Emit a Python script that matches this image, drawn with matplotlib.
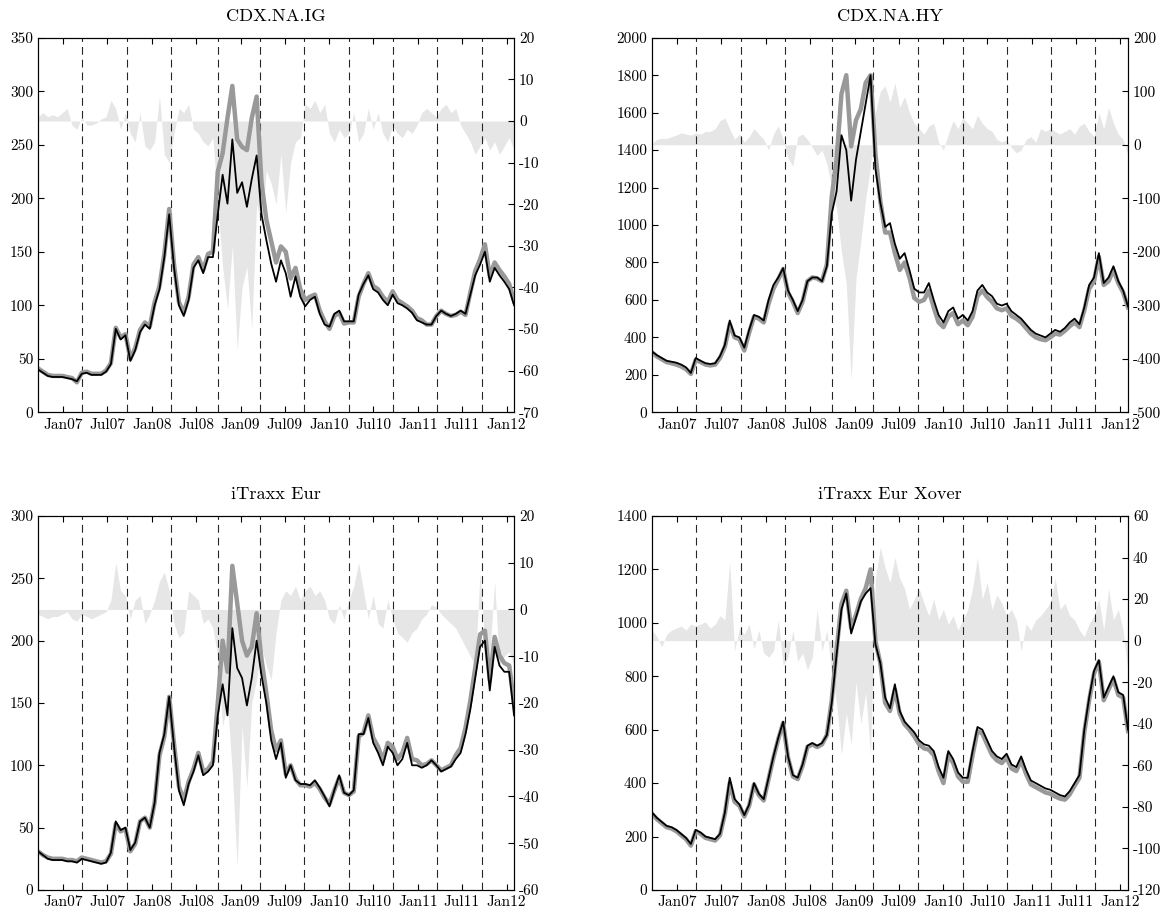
"""
Spreads de CDS - índices CDX e iTraxx
Linha cinza grossa: modelo, linha preta: mercado, área cinza clara: diferença (eixo da direita)
"""
import numpy as np
import pandas as pd
import matplotlib
matplotlib.use('Agg')
import matplotlib.pyplot as plt
import matplotlib.dates as mdates

plt.rcParams['font.family'] = ['cmr10', 'DejaVu Serif']
plt.rcParams['axes.unicode_minus'] = False
plt.rcParams['axes.formatter.use_mathtext'] = False
plt.rcParams['font.size'] = 11

# datas de 20 em 20 dias, de set/2006 a fev/2012
datas = pd.date_range('2006-09-20', periods=99, freq='20D')

# datas de rolagem das séries (linhas tracejadas)
rolagens = pd.to_datetime(['2007-03-20', '2007-09-20', '2008-03-20', '2008-09-29',
                           '2009-03-20', '2009-09-21', '2010-03-22', '2010-09-20',
                           '2011-03-21', '2011-09-20'])

##########  CDX.NA.IG  ##########
ig_mercado = [40, 37, 34, 33, 33, 33, 32, 31, 29, 36,
              37, 35, 35, 35, 38, 45, 78, 68, 72, 48,
              58, 75, 82, 78, 100, 115, 145, 185, 135, 100,
              90, 105, 135, 142, 130, 145, 145, 185, 222, 195,
              255, 205, 215, 192, 218, 240, 185, 161, 139, 122,
              142, 130, 108, 127, 108, 99, 105, 108, 92, 82,
              80, 92, 95, 85, 85, 85, 110, 120, 128, 115,
              112, 105, 100, 110, 102, 100, 97, 93, 86, 84,
              82, 82, 90, 95, 92, 90, 92, 95, 92, 110,
              128, 138, 150, 122, 135, 128, 122, 115, 100]
ig_modelo = [41, 38, 35, 34, 34, 34, 33, 32, 28, 37,
             38, 36, 36, 36, 39, 46, 79, 70, 73, 50,
             60, 77, 84, 80, 103, 118, 148, 190, 138, 103,
             93, 108, 138, 145, 133, 148, 150, 225, 242, 275,
             305, 255, 248, 245, 275, 295, 215, 180, 160, 140,
             155, 150, 125, 135, 115, 105, 108, 110, 95, 85,
             78, 90, 93, 83, 84, 84, 108, 120, 130, 118,
             115, 108, 103, 113, 105, 102, 99, 95, 88, 86,
             82, 82, 90, 95, 92, 90, 91, 94, 91, 112,
             132, 143, 157, 127, 140, 133, 127, 120, 104]
ig_dif = [1, 2, 1, 1.5, 1, 2, 3, -1, -2, 1,
          -1, -1, -0.5, 0.5, 1, 5, 3, -2, 2, -3,
          -5, 2, -6, -7, -5, 6, -8, -10, -3, 3,
          2, 4, -2, -3, -5, -6, -4, -20, -35, -45,
          -30, -55, -40, -35, -50, -20, -25, -12, -15, -20,
          -8, -22, -10, -5, -4, 4, 3, 5, 2, 4,
          -3, -5, -2, -4, -3, 2, -5, -3, 3, -2,
          2, -3, -5, -1, -3, -4, -2, -3, -1, 2,
          3, 2, 1, 3, 4, 2, 3, -1, -3, -5,
          -8, -6, -4, -7, -5, -8, -6, -4, -7]

##########  CDX.NA.HY  ##########
hy_mercado = [325, 305, 290, 275, 270, 265, 255, 240, 210, 290,
              275, 262, 258, 262, 300, 360, 490, 410, 400, 345,
              440, 520, 510, 490, 600, 680, 720, 770, 650, 600,
              540, 600, 700, 720, 720, 700, 780, 1060, 1180, 1480,
              1400, 1130, 1350, 1500, 1650, 1800, 1300, 1120, 990, 1010,
              900, 820, 850, 760, 660, 640, 640, 690, 600, 520,
              480, 540, 560, 500, 520, 490, 540, 650, 680, 640,
              620, 580, 570, 580, 540, 520, 500, 470, 440, 420,
              410, 400, 420, 440, 430, 450, 480, 500, 470, 560,
              680, 720, 850, 690, 720, 780, 700, 650, 565]
hy_modelo = [320, 298, 283, 268, 262, 255, 245, 230, 205, 280,
             268, 255, 250, 255, 290, 350, 470, 400, 390, 330,
             425, 510, 500, 480, 580, 660, 710, 765, 640, 590,
             530, 590, 700, 720, 715, 700, 790, 1150, 1350, 1700,
             1800, 1420, 1560, 1620, 1760, 1800, 1380, 1130, 960, 960,
             850, 760, 800, 720, 610, 590, 600, 650, 560, 480,
             455, 510, 530, 470, 490, 465, 510, 620, 650, 615,
             590, 555, 545, 555, 515, 500, 480, 450, 420, 400,
             390, 385, 400, 420, 415, 435, 460, 480, 455, 545,
             660, 700, 830, 680, 700, 760, 690, 640, 560]
hy_dif = [2, 10, 12, 12, 15, 18, 22, 20, 18, 22,
          20, 25, 25, 30, 45, 50, 30, 10, 20, 5,
          15, 30, 20, 10, -10, 20, 35, 10, -25, -40,
          15, 20, 10, -5, -20, -10, -35, -80, -120, -200,
          -260, -440, -250, -180, -100, -40, 60, 100, 110, 80,
          115, 70, 90, 60, 40, 30, 20, 35, 40, 5,
          -10, 20, 45, 30, 50, 40, 30, 55, 40, 30,
          25, 10, 5, 10, -5, -15, -10, 10, 15, 5,
          30, 25, 30, 25, 20, 25, 30, 20, 35, 40,
          25, 15, 60, 30, 70, 40, 20, 10, -20]

##########  iTraxx Eur  ##########
eur_mercado = [31, 28, 25, 24, 24, 24, 23, 23, 22, 25,
               24, 23, 22, 21, 22, 30, 55, 48, 50, 32,
               38, 55, 58, 50, 70, 110, 125, 155, 115, 80,
               68, 85, 95, 108, 92, 95, 100, 140, 165, 140,
               210, 178, 170, 148, 170, 200, 172, 150, 120, 105,
               118, 90, 100, 88, 85, 85, 84, 88, 82, 75,
               67, 80, 92, 78, 76, 80, 125, 125, 138, 118,
               110, 100, 115, 110, 100, 105, 118, 100, 100, 98,
               100, 104, 100, 95, 97, 99, 105, 110, 125, 145,
               170, 195, 200, 160, 195, 180, 175, 175, 140]
eur_modelo = [31, 28, 26, 25, 25, 25, 24, 24, 23, 26,
              25, 24, 23, 22, 23, 29, 53, 47, 49, 31,
              37, 55, 58, 50, 70, 108, 123, 155, 117, 83,
              72, 87, 97, 110, 95, 97, 103, 150, 200, 175,
              260, 230, 200, 188, 195, 222, 185, 158, 128, 112,
              120, 93, 100, 89, 84, 84, 83, 86, 81, 74,
              69, 80, 90, 78, 76, 79, 123, 126, 140, 122,
              115, 104, 118, 115, 105, 110, 122, 105, 104, 100,
              101, 104, 100, 96, 98, 100, 108, 114, 130, 152,
              178, 205, 208, 168, 203, 188, 182, 180, 150]
eur_dif = [-1, -1.5, -2, -1.5, -1.5, -1, -0.5, -2, -2.5, -1,
           -1.5, -2, -1.5, -1, -0.5, 2, 10, 4, 3, -2,
           2, 3, -3, -1, 2, 6, 8, 4, -3, -6,
           -5, 4, 3, 2, -3, -2, -4, -10, -25, -20,
           -35, -55, -25, -38, -20, -15, -8, -12, -15, -5,
           2, 4, 3, 5, 2, 4, 5, 3, 4, 2,
           -2, -3, 1, -2, 2, 5, 10, 4, -2, 3,
           -3, -4, 2, -2, -5, -6, -7, -5, -4, -2,
           -1, 1, 0.5, -1, -2, -3, -4, -6, -8, -10,
           -12, 8, -8, -10, 6, -12, -10, -9, -12]

##########  iTraxx Eur Xover  ##########
xo_mercado = [290, 270, 255, 240, 235, 225, 210, 195, 172, 225,
              215, 200, 195, 190, 210, 290, 420, 340, 320, 280,
              320, 400, 360, 340, 420, 500, 570, 630, 500, 430,
              420, 470, 540, 550, 540, 550, 580, 700, 880, 1050,
              1110, 960, 1020, 1080, 1110, 1130, 920, 850, 720, 680,
              770, 670, 630, 610, 590, 560, 545, 540, 520, 460,
              420, 520, 490, 440, 420, 420, 520, 610, 600, 560,
              520, 500, 490, 510, 470, 460, 500, 450, 410, 400,
              390, 380, 375, 365, 355, 350, 370, 400, 430, 600,
              720, 820, 860, 720, 760, 800, 740, 730, 600]
xo_modelo = [285, 265, 250, 235, 230, 220, 205, 190, 166, 220,
             210, 195, 190, 185, 205, 285, 400, 330, 315, 275,
             315, 395, 355, 335, 415, 495, 565, 625, 495, 425,
             415, 465, 535, 545, 535, 545, 580, 710, 900, 1070,
             1120, 980, 1030, 1090, 1130, 1200, 930, 850, 700, 670,
             750, 660, 620, 600, 575, 545, 530, 525, 505, 445,
             400, 505, 475, 425, 405, 405, 505, 595, 585, 545,
             505, 485, 475, 495, 455, 445, 485, 435, 395, 385,
             375, 365, 360, 350, 342, 338, 358, 390, 420, 590,
             710, 810, 855, 710, 750, 790, 730, 720, 595]
xo_dif = [5, 2, -3, 3, 5, 6, 7, 5, 8, 7,
          8, 9, 6, 8, 12, 10, 38, -5, 6, 3,
          8, -4, 5, -6, -8, -5, 10, -12, -8, 5,
          -10, -6, -14, -8, 15, -5, 5, -15, -30, -55,
          -35, -50, -20, -40, -25, -55, 30, 45, 35, 28,
          40, 30, 25, 15, 20, 25, 18, 12, 20, 10,
          15, 8, 12, 5, 10, 15, 25, 40, 20, 28,
          15, 22, 18, 12, 15, 10, -5, 8, 5, 10,
          12, 15, 18, 30, 15, 18, 12, 10, 5, 2,
          8, 12, 20, 5, 25, 10, 15, 5, -15]

# titulo, mercado, modelo, diferença, (ymax, passo) esquerda, (ymin, ymax, passo) direita
paineis = [
    ('CDX.NA.IG', ig_mercado, ig_modelo, ig_dif, (350, 50), (-70, 20, 10)),
    ('CDX.NA.HY', hy_mercado, hy_modelo, hy_dif, (2000, 200), (-500, 200, 100)),
    ('iTraxx Eur', eur_mercado, eur_modelo, eur_dif, (300, 50), (-60, 20, 10)),
    ('iTraxx Eur Xover', xo_mercado, xo_modelo, xo_dif, (1400, 200), (-120, 60, 20)),
]

posicoes = [[0.0326, 0.5489, 0.4079, 0.4098],
            [0.5587, 0.5489, 0.4079, 0.4098],
            [0.0326, 0.0263, 0.4079, 0.4092],
            [0.5587, 0.0263, 0.4079, 0.4092]]

fig = plt.figure(figsize=(11.67, 9.14), dpi=100)

for pos, (titulo, mercado, modelo, dif, esq, dir_) in zip(posicoes, paineis):
    ax = fig.add_axes(pos)
    ax2 = ax.twinx()
    # eixo principal por cima da área de diferença
    ax.set_zorder(ax2.get_zorder() + 1)
    ax.patch.set_visible(False)

    ax2.fill_between(datas, 0, dif, color='0.9', lw=0)

    for d in rolagens:
        ax.axvline(d, color='0.15', lw=0.8, ls=(0, (7, 4.5)), zorder=1)

    ax.plot(datas, modelo, color='0.6', lw=3.2, solid_joinstyle='round', zorder=2)
    ax.plot(datas, mercado, color='k', lw=1.3, zorder=3)

    ax.set_xlim(datas[0], datas[-1])
    ax.set_ylim(0, esq[0])
    ax.set_yticks(np.arange(0, esq[0] + 1, esq[1]))
    ax2.set_ylim(dir_[0], dir_[1])
    ax2.set_yticks(np.arange(dir_[0], dir_[1] + 1, dir_[2]))

    ax.xaxis.set_major_locator(mdates.MonthLocator(bymonth=[1, 7]))
    ax.xaxis.set_major_formatter(mdates.DateFormatter('%b%y'))
    ax.tick_params(axis='x', direction='in', top=True, length=4.5, pad=4)
    ax.tick_params(axis='y', direction='in', length=4.5)
    ax2.tick_params(axis='y', direction='in', length=4.5)

    ax.set_title(titulo, pad=12)

fig.savefig('out.png', dpi=100)
